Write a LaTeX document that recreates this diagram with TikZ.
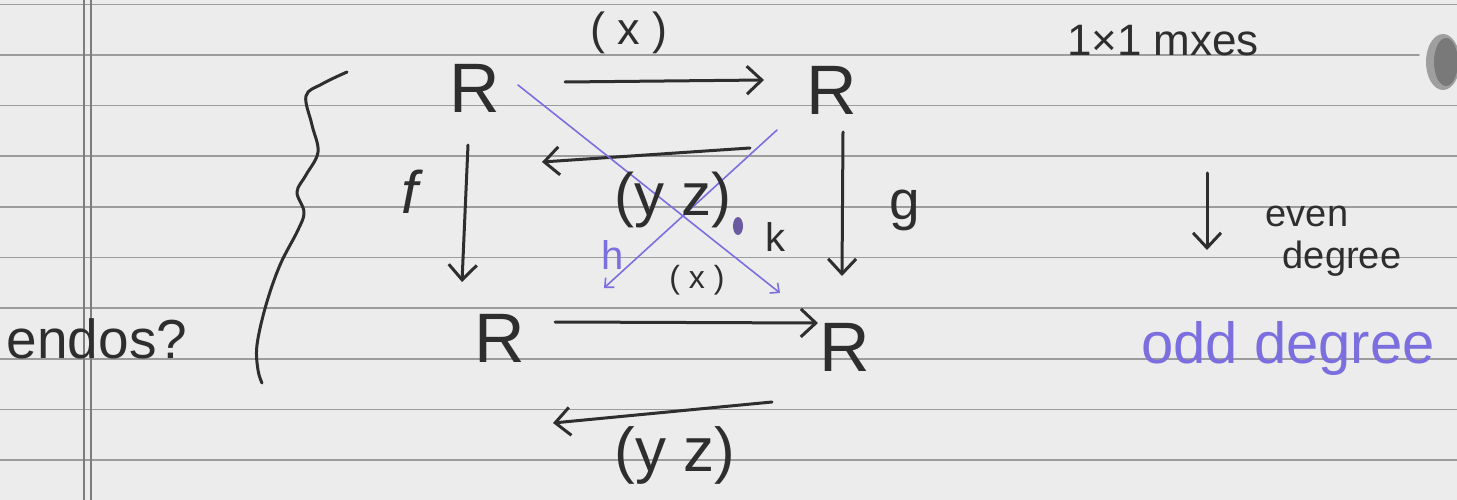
\documentclass[tikz,border=0pt]{standalone}
\usepackage{fontspec}
\setmainfont{Liberation Sans}
\usetikzlibrary{arrows.meta}
\definecolor{paper}{HTML}{ECECEC}
\definecolor{rulec}{HTML}{9C9C9C}
\definecolor{marginc}{HTML}{7C7C7C}
\definecolor{ink}{HTML}{2E2E2E}
\definecolor{pen}{HTML}{7B6FE0}
\definecolor{smudge}{HTML}{6A5AA0}
\newcommand\fsz[1]{\fontsize{#1}{#1}\selectfont}
\begin{document}
\begin{tikzpicture}[x=1pt,y=-1pt,
  lbl/.style={inner sep=0pt, text=ink},
  plbl/.style={inner sep=0pt, text=pen},
  obj/.style={inner sep=0pt, text=ink, font=\fsz{70}, minimum width=50pt, minimum height=60pt},
  arr/.style={draw=ink, line width=3pt, line cap=round, -{Straight Barb[length=15pt,width=28pt]}},
  parr/.style={draw=pen, line width=1.6pt, line cap=round, -{Straight Barb[length=7pt,width=13pt]}},
  ruling/.style={draw=rulec, line width=1.6pt},
  margin/.style={draw=marginc, line width=2pt},
  inkline/.style={draw=ink, line width=3pt, line cap=round, line join=round},
]
\fill[paper] (0,0) rectangle (1457,500);
\useasboundingbox (0,0) rectangle (1457,500);
\clip (0,0) rectangle (1457,500);
% ruled paper
\foreach \k in {0,...,9} \draw[ruling] (0,{4.5+50.6*\k}) -- (1457,{4.5+50.6*\k});
\draw[margin] (84,0) -- (84,500);
\draw[margin] (91,0) -- (91,500);
% punched hole
\fill[white!85!gray] (1442,62) ellipse [x radius=23pt, y radius=34pt];
\fill[gray!75!white] (1443,62) ellipse [x radius=17pt, y radius=28pt];
\fill[gray!95!black] (1446,62) ellipse [x radius=12pt, y radius=24pt];

% objects
\node[obj] (tl) at (475,88) {R};
\node[obj] (tr) at (832,90) {R};
\node[obj] (bl) at (500,338) {R};
\node[obj] (br) at (845,347) {R};

% black arrows
\draw[arr] ([shift={(90,-6)}]tl.center) -- ([shift={(-68,-10)}]tr.center);
\draw[arr] ([shift={(-82,58)}]tr.center) -- ([shift={(67,74)}]tl.center);
\draw[arr] ([shift={(-7,57)}]tl.center) -- ([shift={(-38,-56)}]bl.center);
\draw[arr] ([shift={(11,42)}]tr.center) -- ([shift={(-3,-71)}]br.center);
\draw[arr] ([shift={(55,-16)}]bl.center) -- ([shift={(-27,-24)}]br.center);
\draw[arr] ([shift={(-73,55)}]br.center) -- ([shift={(53,85)}]bl.center);

% purple diagonals
\draw[parr] ([shift={(-55,40)}]tr.center) -- ([shift={(104,-50)}]bl.center);
\draw[parr] ([shift={(43,-3)}]tl.center) -- ([shift={(-65,-54)}]br.center);

% labels
\node[lbl, font=\fsz{45}] (lx1) at (629,33) {( x )};
\node[lbl, font=\fsz{60}] (lyz1) at (673,200) {(y z)};
\node[lbl, font=\fsz{60}\itshape] (lf) at (410,192) {f};
\node[lbl, font=\fsz{55}] (lg) at (905,210) {g};
\node[plbl, font=\fsz{40}] (lh) at (613,255) {h};
\node[lbl, font=\fsz{40}] (lk) at (775,237) {k};
\fill[smudge] (738,226) ellipse [x radius=5pt, y radius=9pt];
\node[lbl, font=\fsz{32}] (lx2) at (697,280) {( x )};
\node[lbl, font=\fsz{62}] (lyz2) at (675,455) {(y z)};

% brace
\draw[inkline] plot[smooth, tension=0.6] coordinates {(347,72) (322,84) (306,96) (312,125) (318,152) (306,175) (297,192) (304,212) (298,230) (280,265) (266,305) (257,345) (258,370) (262,383)};

% left text
\node[lbl, font=\fsz{55}, anchor=base] (endos) at (97,358) {endos?};

% right notes
\node[lbl, font=\fsz{44}, anchor=base] (mx) at (1163,56) {1×1 mxes};
\coordinate (d1) at (1207,173);
\coordinate (d2) at (1207,250);
\draw[arr] (d1) -- (d2);
\node[lbl, font=\fsz{38}, anchor=base] (even) at (1307,226) {even};
\node[lbl, font=\fsz{38}, anchor=base] (deg) at (1342,268) {degree};
\node[plbl, font=\fsz{58}, anchor=base] (odd) at (1288,363) {odd degree};
\end{tikzpicture}
\end{document}
